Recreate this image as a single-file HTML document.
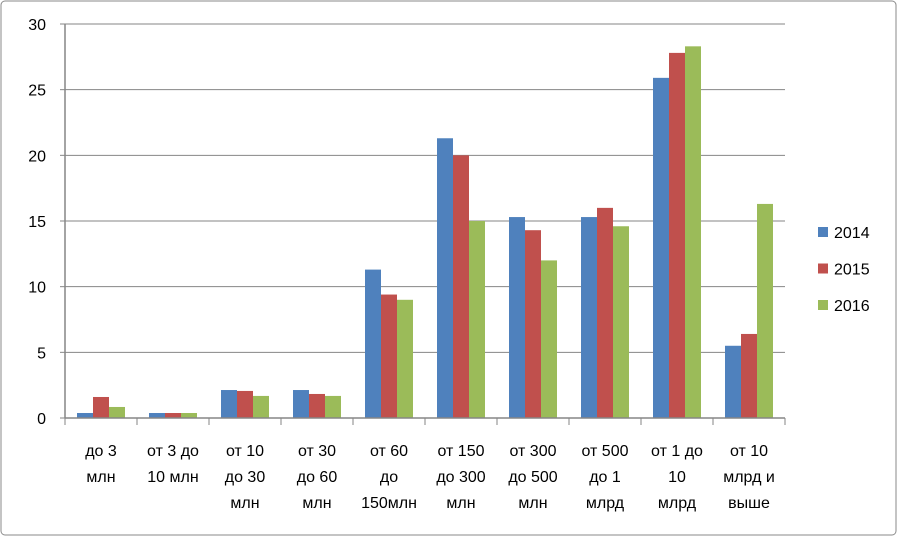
<!DOCTYPE html>
<html><head><meta charset="utf-8"><style>
body{margin:0;background:#fff}
svg{display:block;font-family:"Liberation Sans","DejaVu Sans",sans-serif}
</style></head><body>
<svg id="c" width="898" height="537">
<rect x="1" y="1" width="895" height="534" rx="4" fill="#fff" stroke="#8a8a8a"/>
</svg>
<script>
const categories=[["до 3","млн"],["от 3 до","10 млн"],["от 10","до 30","млн"],["от 30","до 60","млн"],["от 60","до","150млн"],["от 150","до 300","млн"],["от 300","до 500","млн"],["от 500","до 1","млрд"],["от 1 до","10","млрд"],["от 10","млрд и","выше"]];
const s2014=[0.38,0.38,2.13,2.13,11.3,21.3,15.3,15.3,25.9,5.5];
const s2015=[1.6,0.38,2.06,1.83,9.4,20.0,14.3,16.0,27.8,6.4];
const s2016=[0.84,0.38,1.68,1.68,9.0,15.0,12.0,14.6,28.3,16.3];
const seriesNames=["2014","2015","2016"];
const yTicks=[0,5,10,15,20,25,30];
const colors=["#4f81bd","#c0504d","#9bbb59"];
const NS="http://www.w3.org/2000/svg",svg=document.getElementById("c");
const L=65,R=785,T=24,B=418,yMax=30;
const y=v=>B-(v/yMax)*(B-T);
const cw=(R-L)/categories.length;
const x=i=>L+i*cw;
function mk(t,a,p){const e=document.createElementNS(NS,t);for(const k in a)e.setAttribute(k,a[k]);(p||svg).appendChild(e);return e;}
yTicks.forEach(v=>{
 if(v>0){const g=mk("line",{x1:L,x2:R,y1:y(v),y2:y(v),stroke:"#868686","stroke-width":1});
 
 }
 const t=mk("text",{x:46,y:y(v)+6,"text-anchor":"end","font-size":16,fill:"#000"});t.textContent=v;
 
 
 const tk=mk("line",{x1:L-5,x2:L,y1:y(v),y2:y(v),stroke:"#868686"});
 
 
});
const series=[s2014,s2015,s2016];
const bw=16,pad=(cw-bw*3)/2;
series.forEach((s,si)=>s.forEach((v,i)=>{
 const r=mk("rect",{x:x(i)+pad+si*bw,y:y(v),width:bw,height:B-y(v),fill:colors[si]});
 
 
}));
const ax=mk("line",{x1:L,x2:R,y1:B,y2:B,stroke:"#868686","stroke-width":1.5});


const ay=mk("line",{x1:L,x2:L,y1:T,y2:B,stroke:"#868686","stroke-width":1.5});


for(let i=0;i<=categories.length;i++){const tk=mk("line",{x1:x(i),x2:x(i),y1:B,y2:B+7,stroke:"#868686"});
 
 }
categories.forEach((c,i)=>{
 const t=mk("text",{x:x(i)+cw/2,"text-anchor":"middle","font-size":16,fill:"#000"});
 
 
 c.forEach((ln,j)=>{const s=mk("tspan",{x:x(i)+cw/2,y:456+j*26},t);s.textContent=ln;});
});
seriesNames.forEach((n,si)=>{
 const g=mk("g",{});
 
 
 const yy=232+si*36.5;
 mk("rect",{x:818,y:yy-5,width:10,height:10,fill:colors[si]},g);
 const t=mk("text",{x:834,y:yy+6,"font-size":16,fill:"#000"},g);t.textContent=n;
});
</script>
</body></html>
